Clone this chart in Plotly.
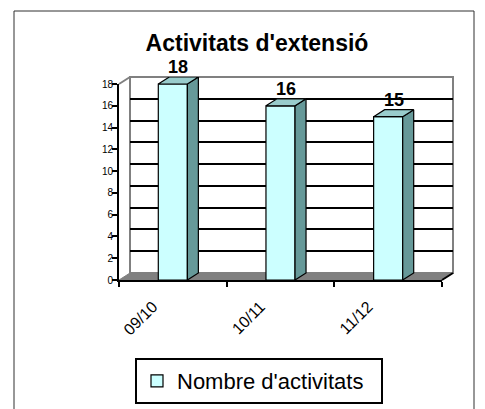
import plotly.graph_objects as go

# ---- data ----
categories = ["09/10", "10/11", "11/12"]
values = [18, 16, 15]
series_name = "Nombre d'activitats"
title_text = "Activitats d'extensió"
y_ticks = list(range(0, 19, 2))

# ---- geometry (pixels, screen coords; page body adds an 8px offset) ----
OFF = 8
W, H = 485, 409
X_FRONT0, X_BACK1 = 119 - OFF, 453 - OFF
Y_ZERO, Y_TOP = 280 - OFF, 77 - OFF
L, T = X_FRONT0, Y_TOP
R, B = W - X_BACK1, H - Y_ZERO
PW = W - L - R          # 334
PH = H - T - B          # 203
DXP, DYP = 11, 7        # 3-D depth offset in pixels
FRONT_W = PW - DXP      # 323
FRONT_H = 196
ncat = len(categories)
ymax = 18
bar_w = 0.27

dx = DXP / (FRONT_W / ncat)        # depth in category units
dy = DYP / (FRONT_H / ymax)        # depth in value units

FONT = "Arial, Liberation Sans, sans-serif"
FRONT_C = "#CCFFFF"
SIDE_C = "#669999"
TOP_C = "#99CCCC"
GRAY = "#808080"

fig = go.Figure()

# invisible helpers so every subplot is built
fig.add_trace(go.Scatter(x=[0], y=[0], xaxis="x", yaxis="y", mode="markers",
                         marker=dict(opacity=0), showlegend=False, hoverinfo="skip"))
fig.add_trace(go.Scatter(x=[0], y=[0], xaxis="x2", yaxis="y2", mode="markers",
                         marker=dict(opacity=0), showlegend=False, hoverinfo="skip"))

# front faces
fig.add_trace(go.Bar(x=list(range(ncat)), y=values, width=bar_w,
                     name=series_name + "\u00a0\u00a0",
                     xaxis="x3", yaxis="y3",
                     marker=dict(color=FRONT_C, line=dict(color="black", width=1.2)),
                     showlegend=True, hoverinfo="skip"))

# side and top faces
sx, sy, tx, ty = [], [], [], []
for i, v in enumerate(values):
    xl, xr = i - bar_w / 2, i + bar_w / 2
    sx += [xr, xr + dx, xr + dx, xr, xr, None]
    sy += [0, dy, v + dy, v, 0, None]
    tx += [xl, xl + dx, xr + dx, xr, xl, None]
    ty += [v, v + dy, v + dy, v, v, None]
fig.add_trace(go.Scatter(x=sx, y=sy, xaxis="x3", yaxis="y3", mode="lines", fill="toself",
                         fillcolor=SIDE_C, line=dict(color="black", width=1.2),
                         showlegend=False, hoverinfo="skip"))
fig.add_trace(go.Scatter(x=tx, y=ty, xaxis="x3", yaxis="y3", mode="lines", fill="toself",
                         fillcolor=TOP_C, line=dict(color="black", width=1.2),
                         showlegend=False, hoverinfo="skip"))

# data labels
for i, v in enumerate(values):
    fig.add_annotation(x=i + dx / 2, y=v + dy, xref="x3", yref="y3", text=f"<b>{v}</b>",
                       showarrow=False, yanchor="bottom", yshift=-2,
                       font=dict(family=FONT, size=18, color="black"))

def px2p(px, py):
    return (px - L) / PW, (H - B - py) / PH

# back wall, floor and side wall (decoration)
fx0, fy0 = px2p(L, H - B)
fx1, _ = px2p(L + FRONT_W, H - B)
bx0, by0 = px2p(L + DXP, H - B - DYP)
bx1, _ = px2p(L + PW, H - B - DYP)
_, ty1 = px2p(L, T)
_, fyt = px2p(L, H - B - FRONT_H)
shapes = [
    dict(type="rect", xref="paper", yref="paper", x0=bx0, x1=bx1, y0=by0, y1=ty1,
         fillcolor="white", line=dict(color=GRAY, width=2), layer="below"),
    dict(type="path", xref="paper", yref="paper",
         path=f"M{fx0},{fy0} L{fx1},{fy0} L{bx1},{by0} L{bx0},{by0} Z",
         fillcolor=GRAY, line=dict(color=GRAY, width=1), layer="below"),
    dict(type="line", xref="paper", yref="paper", x0=fx0, y0=fyt, x1=bx0, y1=ty1,
         line=dict(color=GRAY, width=2), layer="below"),
    dict(type="line", xref="paper", yref="paper", x0=fx1, y0=fy0, x1=bx1, y1=by0,
         line=dict(color="black", width=2), layer="above"),
    # outer chart border
    dict(type="rect", xref="paper", yref="paper",
         x0=px2p(14 - OFF, 0)[0], x1=px2p(474 - OFF, 0)[0],
         y0=px2p(0, 430)[1], y1=px2p(0, 11 - OFF)[1],
         line=dict(color="#303030", width=1), fillcolor="rgba(0,0,0,0)", layer="below"),
]

fig.update_layout(
    template="none",
    width=W, height=H,
    margin=dict(l=L, r=R, t=T, b=B, pad=0, autoexpand=False),
    paper_bgcolor="white", plot_bgcolor="rgba(0,0,0,0)",
    font=dict(family=FONT, color="black"),
    title=dict(text=f"<b>{title_text}</b>", x=(257 - OFF) / W, xanchor="center",
               y=1 - (43 - OFF) / H, yanchor="middle", xref="container", yref="container",
               font=dict(family=FONT, size=23, color="black")),
    # back wall grid
    xaxis=dict(domain=[DXP / PW, 1], range=[-0.5, ncat - 0.5], visible=False,
               fixedrange=True, automargin=False),
    yaxis=dict(domain=[DYP / PH, 1], range=[0, ymax], showgrid=True, gridcolor="black",
               gridwidth=1.5, zeroline=False, showticklabels=False, ticks="",
               showline=False, tickvals=y_ticks, fixedrange=True, automargin=False),
    # front axes
    xaxis2=dict(domain=[0, FRONT_W / PW], range=[-0.5, ncat - 0.5], anchor="y2",
                tickvals=list(range(ncat)), ticktext=categories, tickangle=-45, ticks="",
                showline=True, linecolor="black", linewidth=2, showgrid=False,
                zeroline=False, tickfont=dict(family=FONT, size=16, color="black"),
                ticklabelshift=-20, ticklabelstandoff=9,
                minor=dict(tickvals=[k - 0.5 for k in range(ncat + 1)], ticks="outside",
                           ticklen=5, tickwidth=2, tickcolor="black", showgrid=False),
                fixedrange=True, automargin=False),
    yaxis2=dict(domain=[0, FRONT_H / PH], range=[0, ymax], anchor="x2", tickvals=y_ticks,
                ticks="outside", ticklen=5, tickwidth=2, tickcolor="black",
                showline=True, linecolor="black", linewidth=2, showgrid=False,
                zeroline=False, tickfont=dict(family=FONT, size=10, color="black"),
                ticklabelstandoff=-3,
                fixedrange=True, automargin=False),
    # 3-D deco axes
    xaxis3=dict(domain=[0, 1], range=[-0.5, -0.5 + ncat * PW / FRONT_W], anchor="y3",
                visible=False, fixedrange=True, automargin=False),
    yaxis3=dict(domain=[0, 1], range=[0, ymax * PH / FRONT_H], anchor="x3",
                visible=False, fixedrange=True, automargin=False),
    showlegend=True,
    legend=dict(xref="container", yref="container", x=(135 - OFF) / W,
                y=1 - (358 - OFF) / H, xanchor="left", yanchor="top",
                bordercolor="black", borderwidth=2, bgcolor="white",
                font=dict(family=FONT, size=22, color="black"), itemwidth=30),
    shapes=shapes,
)

fig.write_html("out.html")
